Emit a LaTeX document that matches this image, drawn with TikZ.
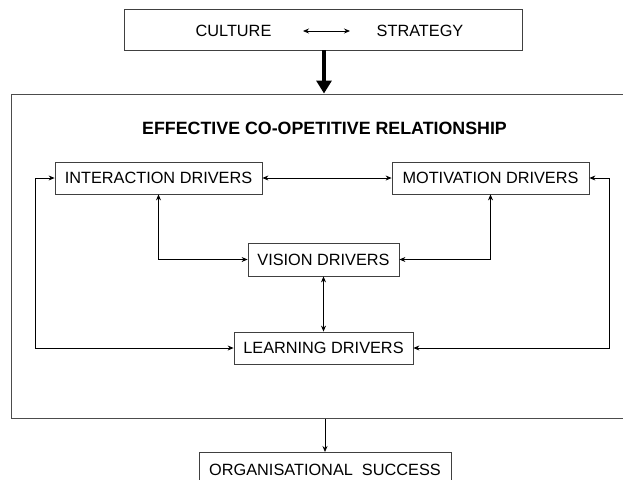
\documentclass[tikz,border=0pt]{standalone}
\usepackage{fontspec}
\setmainfont{Liberation Sans}
\usetikzlibrary{arrows.meta}
\begin{document}
\begin{tikzpicture}[x=1pt,y=-1pt,
  box/.style={draw=black!75,line width=0.8pt,inner sep=0pt,font=\fontsize{16.3}{18}\selectfont},
  lbl/.style={inner sep=0pt,font=\fontsize{16.3}{18}\selectfont},
  conn/.style={line width=0.8pt,-{Stealth[length=6pt,width=5pt]}},
  bconn/.style={line width=0.8pt,{Stealth[length=6pt,width=5pt]}-{Stealth[length=6pt,width=5pt]}}]
\useasboundingbox (0,0) rectangle (623,479);
% top box
\node[box,minimum width=398pt,minimum height=41pt] (top) at (323,29.5) {};
\node[lbl] (cul) at (233.5,31) {CULTURE};
\node[lbl] (str) at (420,31) {STRATEGY};
\coordinate (ca) at (303,31);
\coordinate (cb) at (350,31);
\draw[bconn] (ca) -- (cb);
% big box (right edge runs past the picture)
\node[draw=black!70,line width=1pt,inner sep=0pt,minimum width=616pt,minimum height=324pt] (big) at (319,256) {};
\draw[line width=3.5pt,-{Triangle[length=13pt,width=15pt]}] (top.south -| 324,0) -- (big.north -| 324,0);
\node[inner sep=0pt,font=\bfseries\fontsize{17.8}{20}\selectfont] (title) at (324.5,128) {EFFECTIVE CO-OPETITIVE RELATIONSHIP};
% driver boxes
\node[box,minimum width=207pt,minimum height=32pt] (int) at (158.5,178) {INTERACTION DRIVERS};
\node[box,minimum width=197pt,minimum height=32pt] (mot) at (490.5,178) {MOTIVATION DRIVERS};
\node[box,minimum width=151pt,minimum height=33pt] (vis) at (323.5,259.5) {VISION DRIVERS};
\node[box,minimum width=179pt,minimum height=32pt] (lea) at (323.5,348) {LEARNING DRIVERS};
\node[box,minimum width=252pt,minimum height=34pt,anchor=north] (org) at (325,452) {ORGANISATIONAL\ \ SUCCESS};
% connectors
\draw[bconn] (int.east) -- (mot.west);
\draw[bconn] (int.south) |- (vis.west);
\draw[bconn] (mot.south) |- (vis.east);
\draw[bconn] (vis.south) -- (lea.north);
\coordinate (lt) at (35,178);
\coordinate (rt) at (609,178);
\draw[bconn] (int.west) -- (lt) |- (lea.west);
\draw[bconn] (mot.east) -- (rt) |- (lea.east);
\draw[conn] (big.south -| org.north) -- (org.north);
\end{tikzpicture}
\end{document}
